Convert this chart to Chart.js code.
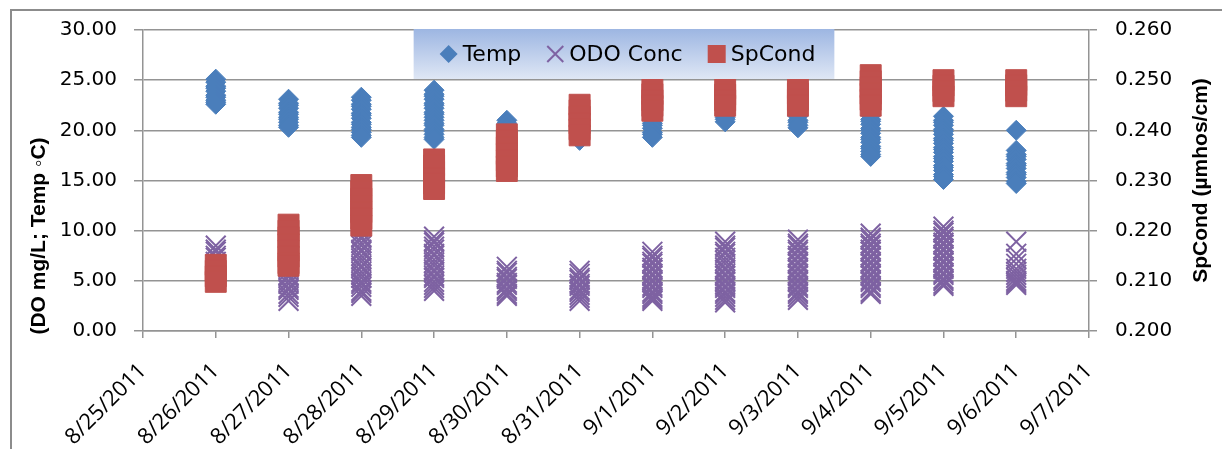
<!DOCTYPE html>
<html>
<head>
<meta charset="utf-8">
<script src="https://cdn.jsdelivr.net/npm/chart.js@4.4.1/dist/chart.umd.min.js"></script>
<style>
  html, body { margin: 0; padding: 0; background: #fff; }
  #wrap { width: 1222px; height: 449px; position: relative; }
</style>
</head>
<body>
<div id="wrap"><canvas id="graph"></canvas></div>
<script>
// x axis tick labels (one per day)
var dayLabels = [
  "8/25/2011", "8/26/2011", "8/27/2011", "8/28/2011", "8/29/2011",
  "8/30/2011", "8/31/2011", "9/1/2011", "9/2/2011", "9/3/2011",
  "9/4/2011", "9/5/2011", "9/6/2011", "9/7/2011",
];

// days that have readings
var sampleDays = [
  "8/26/2011", "8/27/2011", "8/28/2011", "8/29/2011", "8/30/2011", "8/31/2011",
  "9/1/2011", "9/2/2011", "9/3/2011", "9/4/2011", "9/5/2011", "9/6/2011",
];

// Temp (deg C), readings per day
var tempByDay = [
  [25.1, 24.8, 24.4, 24.2, 23.9, 23.5, 23.3, 23.0, 22.8, 22.6],
  [23.1, 22.7, 22.5, 22.2, 21.8, 21.6, 21.3, 21.1, 20.8, 20.5, 20.3],
  [23.3, 23.0, 22.6, 22.4, 22.1, 21.7, 21.5, 21.2, 20.8, 20.6, 20.3, 20.1, 19.8, 19.5, 19.3],
  [24.0, 23.6, 23.4, 23.1, 22.7, 22.5, 22.2, 21.8, 21.6, 21.3, 21.0, 20.7, 20.5, 20.1, 19.9, 19.6, 19.3, 19.1],
  [21.0, 20.7, 20.3, 20.1, 19.8],
  [20.8, 20.4, 20.2, 19.9, 19.5, 19.3, 19.0],
  [22.0, 21.6, 21.4, 21.1, 20.7, 20.5, 20.2, 19.8, 19.6, 19.3],
  [22.0, 21.7, 21.3, 21.1, 20.85],
  [22.0, 21.6, 21.4, 21.0, 20.8, 20.5, 20.25],
  [21.5, 21.1, 20.9, 20.6, 20.2, 20.0, 19.7, 19.3, 19.1, 18.8, 18.4, 18.2, 17.9, 17.6, 17.4],
  [21.4, 21.0, 20.8, 20.5, 20.1, 19.9, 19.6, 19.2, 19.0, 18.7, 18.3, 18.1, 17.8, 17.4, 17.2, 16.9, 16.5, 16.3, 16.0, 15.6, 15.4, 15.1],
  [20.0, 18.0, 17.6, 17.4, 17.1, 16.7, 16.5, 16.2, 15.8, 15.6, 15.3, 14.9, 14.7],
];

// ODO Conc (mg/L), readings per day
var odoByDay = [
  [8.5, 8.1, 7.9, 7.5, 7.3, 6.9, 6.6, 6.3, 5.9, 5.6, 5.2],
  [9.0, 8.7, 8.3, 8.0, 7.6, 7.4, 7.0, 6.7, 6.3, 6.0, 5.6, 5.4, 5.0, 4.7, 4.3, 4.1, 3.7, 3.4, 3.0],
  [9.8, 9.4, 9.2, 8.8, 8.5, 8.1, 7.9, 7.5, 7.2, 6.9, 6.5, 6.3, 5.9, 5.6, 5.3, 4.9, 4.7, 4.4, 4.0, 3.8, 3.5],
  [9.4, 9.0, 8.8, 8.4, 8.1, 7.7, 7.5, 7.1, 6.8, 6.5, 6.1, 5.9, 5.5, 5.3, 4.9, 4.6, 4.3, 4.0],
  [6.4, 6.0, 5.8, 5.4, 5.2, 4.8, 4.6, 4.2, 4.0, 3.7, 3.5],
  [6.0, 5.7, 5.3, 5.1, 4.7, 4.5, 4.1, 3.9, 3.6, 3.3, 3.0],
  [7.9, 7.5, 7.3, 6.9, 6.7, 6.3, 6.1, 5.7, 5.5, 5.1, 4.9, 4.5, 4.3, 3.9, 3.7, 3.4, 3.2, 3.0],
  [8.9, 8.5, 8.3, 7.9, 7.7, 7.3, 7.0, 6.7, 6.3, 6.1, 5.7, 5.5, 5.1, 4.9, 4.5, 4.3, 3.9, 3.7, 3.4, 3.1, 2.85],
  [9.1, 8.7, 8.5, 8.1, 7.9, 7.5, 7.3, 6.9, 6.7, 6.3, 6.1, 5.7, 5.5, 5.1, 4.9, 4.5, 4.3, 3.9, 3.7, 3.4, 3.1],
  [9.7, 9.3, 9.1, 8.7, 8.5, 8.1, 7.9, 7.5, 7.3, 6.9, 6.7, 6.3, 6.1, 5.7, 5.5, 5.1, 4.9, 4.5, 4.3, 3.9, 3.7],
  [10.4, 10.0, 9.8, 9.4, 9.2, 8.8, 8.6, 8.2, 8.0, 7.6, 7.4, 7.0, 6.8, 6.4, 6.2, 5.8, 5.6, 5.2, 5.0, 4.7, 4.5],
  [8.9, 7.7, 7.2, 6.7, 6.2, 5.9, 5.6, 5.3, 5.0, 4.8, 4.6],
];

// SpCond (umhos/cm), readings per day, right axis
var spCondByDay = [
  [0.2132, 0.2120, 0.2109, 0.2098],
  [0.2212, 0.2200, 0.2187, 0.2173, 0.2160, 0.2148, 0.2135, 0.2130],
  [0.2291, 0.2278, 0.2264, 0.2250, 0.2237, 0.2224, 0.2210],
  [0.2342, 0.2330, 0.2317, 0.2305, 0.2294, 0.2283],
  [0.2392, 0.2380, 0.2366, 0.2353, 0.2340, 0.2328, 0.2319],
  [0.2451, 0.2440, 0.2427, 0.2414, 0.2402, 0.2390],
  [0.2484, 0.2472, 0.2460, 0.2449, 0.2439],
  [0.2484, 0.2471, 0.2460, 0.2449],
  [0.2484, 0.2473, 0.2461, 0.2449],
  [0.2510, 0.2498, 0.2486, 0.2473, 0.2461, 0.2449],
  [0.2500, 0.2489, 0.2478, 0.2468],
  [0.2500, 0.2490, 0.2479, 0.2468],
];

function toPoints(byDay) {
  var pts = [];
  sampleDays.forEach(function (day, i) {
    var x = dayLabels.indexOf(day);
    byDay[i].forEach(function (v) {
      pts.push({ x: x, y: v });
    });
  });
  return pts;
}

var gridGray = "#949494";
var tickFont = { family: "DejaVu Sans", size: 20 };

function drawMarker(ctx, style, x, y, color) {
  ctx.fillStyle = color;
  ctx.strokeStyle = color;
  ctx.beginPath();
  if (style === "rectRot") {
    ctx.moveTo(x, y - 9);
    ctx.lineTo(x + 9, y);
    ctx.lineTo(x, y + 9);
    ctx.lineTo(x - 9, y);
    ctx.closePath();
    ctx.fill();
  } else if (style === "crossRot") {
    ctx.lineWidth = 2;
    ctx.moveTo(x - 8, y - 8);
    ctx.lineTo(x + 8, y + 8);
    ctx.moveTo(x + 8, y - 8);
    ctx.lineTo(x - 8, y + 8);
    ctx.stroke();
  } else {
    ctx.fillRect(x - 9, y - 9, 18, 18);
  }
}

// legend box with gradient, laid over the top of the plot
var boxLegend = {
  id: "boxLegend",
  afterDatasetsDraw: function (chart) {
    var ctx = chart.ctx;
    var area = chart.chartArea;
    var sets = chart.data.datasets;
    ctx.save();
    ctx.font = '22px "DejaVu Sans"';
    var widths = sets.map(function (d) { return 23 + ctx.measureText(d.label).width; });
    var total = widths.reduce(function (a, b) { return a + b; }, 0) + 25 * (sets.length - 1);
    var boxW = total + 26 + 19;
    var left = (area.left + area.right) / 2 + 8 - boxW / 2;
    var top = area.top - 1;
    var h = 50;
    var grad = ctx.createLinearGradient(0, top, 0, top + h);
    grad.addColorStop(0, "#9db6e2");
    grad.addColorStop(1, "#dfe7f5");
    ctx.fillStyle = grad;
    ctx.fillRect(left, top, boxW, h);
    var x = left + 26;
    sets.forEach(function (d, i) {
      drawMarker(ctx, d.pointStyle, x + 9, top + 25, d.borderColor);
      ctx.fillStyle = "#000";
      ctx.textAlign = "left";
      ctx.textBaseline = "alphabetic";
      ctx.fillText(d.label, x + 23, top + 32);
      x += widths[i] + 25;
    });
    ctx.restore();
  },
};

// outer frame and rotated axis titles
var frameAndTitles = {
  id: "frameAndTitles",
  beforeDraw: function (chart) {
    var ctx = chart.ctx;
    ctx.save();
    ctx.strokeStyle = "#8c8c8c";
    ctx.lineWidth = 2;
    ctx.beginPath();
    ctx.moveTo(11, chart.height);
    ctx.lineTo(11, 10);
    ctx.lineTo(chart.width, 10);
    ctx.stroke();
    ctx.restore();
  },
  afterDraw: function (chart) {
    var ctx = chart.ctx;
    var area = chart.chartArea;
    ctx.save();
    ctx.fillStyle = "#000";
    ctx.font = 'bold 21px "Liberation Sans"';
    ctx.textAlign = "center";
    ctx.textBaseline = "middle";
    ctx.translate(39, area.bottom - 95);
    ctx.rotate(-Math.PI / 2);
    ctx.fillText("(DO mg/L; Temp \u25E6C)", 0, 0);
    ctx.restore();
    ctx.save();
    ctx.fillStyle = "#000";
    ctx.font = 'bold 21px "Liberation Sans"';
    ctx.textAlign = "center";
    ctx.textBaseline = "middle";
    ctx.translate(1201, (area.top + area.bottom) / 2);
    ctx.rotate(-Math.PI / 2);
    ctx.fillText("SpCond (\u00B5mhos/cm)", 0, 0);
    ctx.restore();
  },
};

var ctx = document.getElementById("graph").getContext("2d");
var chart = new Chart(ctx, {
  type: "scatter",
  data: {
    datasets: [
      {
        label: "Temp",
        data: toPoints(tempByDay),
        yAxisID: "y",
        pointStyle: "rectRot",
        pointRadius: 10,
        backgroundColor: "#4a7ebb",
        borderColor: "#4a7ebb",
        borderWidth: 1,
        order: 2,
      },
      {
        label: "ODO Conc",
        data: toPoints(odoByDay),
        yAxisID: "y",
        pointStyle: "crossRot",
        pointRadius: 14,
        backgroundColor: "#7e62a2",
        borderColor: "#7e62a2",
        borderWidth: 2,
        order: 3,
      },
      {
        label: "SpCond",
        data: toPoints(spCondByDay),
        yAxisID: "y1",
        pointStyle: "rect",
        pointRadius: 14.8,
        backgroundColor: "#c0504d",
        borderColor: "#c0504d",
        borderWidth: 1,
        order: 1,
      },
    ],
  },
  options: {
    responsive: true,
    maintainAspectRatio: false,
    animation: false,
    events: [],
    layout: { padding: { top: 26, left: 0, right: 0, bottom: 0 } },
    plugins: {
      tooltip: { enabled: false },
      legend: { display: false },
    },
    scales: {
      x: {
        type: "linear",
        position: "bottom",
        min: 0,
        max: dayLabels.length - 1,
        ticks: {
          stepSize: 1,
          autoSkip: false,
          maxRotation: 45,
          minRotation: 45,
          padding: 20,
          color: "#000",
          font: { family: "Open Sans", size: 22 },
          callback: function (v) { return dayLabels[v]; },
        },
        grid: { drawOnChartArea: false, drawTicks: true, tickLength: 7, color: gridGray, lineWidth: 1.5 },
        border: { display: true, color: gridGray, width: 1.5 },
        afterFit: function (scale) { scale.height = 118; },
      },
      y: {
        position: "left",
        min: 0,
        max: 30,
        ticks: {
          stepSize: 5,
          padding: 17,
          color: "#000",
          font: tickFont,
          callback: function (v) { return v.toFixed(2); },
        },
        grid: { color: gridGray, lineWidth: 1.5, tickLength: 9 },
        border: { display: true, color: gridGray, width: 1.5 },
        afterFit: function (scale) { scale.width = 143; },
      },
      y1: {
        position: "right",
        min: 0.2,
        max: 0.26,
        ticks: {
          stepSize: 0.01,
          padding: 18,
          color: "#000",
          font: tickFont,
          callback: function (v) { return v.toFixed(3); },
        },
        grid: { drawOnChartArea: false, color: gridGray, lineWidth: 1.5, tickLength: 8 },
        border: { display: true, color: gridGray, width: 1.5 },
        afterFit: function (scale) { scale.width = 133; },
      },
    },
  },
  plugins: [boxLegend, frameAndTitles],
});
</script>
</body>
</html>
